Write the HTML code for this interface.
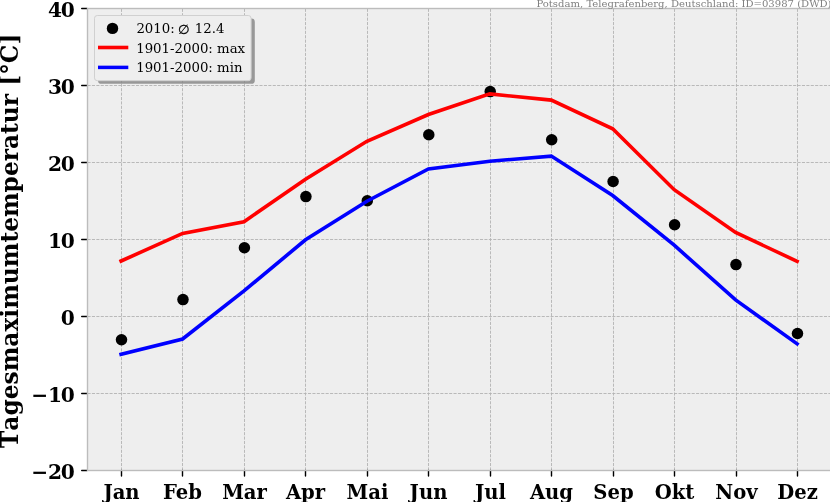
<!DOCTYPE html>
<html lang="de"><head><meta charset="utf-8"><title>Potsdam Tagesmaximumtemperatur 2010</title>
<style>html,body{margin:0;padding:0;background:#fff;overflow:hidden}svg{display:block}text{font-family:"DejaVu Serif","DejaVu Sans","Liberation Serif",serif}.tk{font-weight:bold;font-size:19.6px;fill:#000}.ty{font-weight:bold;font-size:20.2px;letter-spacing:-1.3px;fill:#000}.lg{font-size:13.3px;fill:#000}</style></head><body>
<svg width="830" height="502" viewBox="0 0 830 502">
<rect x="0" y="0" width="830" height="502" fill="#ffffff"/>
<rect x="87.5" y="8.5" width="745.0" height="462.0" fill="#eeeeee"/>
<g stroke="#b2b2b2" stroke-width="0.9" stroke-dasharray="3.08 1.33" fill="none">
<path d="M121.5 470.5V8.5"/>
<path d="M182.5 470.5V8.5"/>
<path d="M244.5 470.5V8.5"/>
<path d="M305.5 470.5V8.5"/>
<path d="M367.5 470.5V8.5"/>
<path d="M428.5 470.5V8.5"/>
<path d="M490.5 470.5V8.5"/>
<path d="M551.5 470.5V8.5"/>
<path d="M613.5 470.5V8.5"/>
<path d="M674.5 470.5V8.5"/>
<path d="M736.5 470.5V8.5"/>
<path d="M797.5 470.5V8.5"/>
<path d="M87.5 393.5H832.5"/>
<path d="M87.5 316.5H832.5"/>
<path d="M87.5 239.5H832.5"/>
<path d="M87.5 162.5H832.5"/>
<path d="M87.5 85.5H832.5"/>
</g>
<g fill="#000">
<circle cx="121.5" cy="339.7" r="5.75"/>
<circle cx="183.0" cy="299.6" r="5.75"/>
<circle cx="244.4" cy="247.7" r="5.75"/>
<circle cx="305.9" cy="196.6" r="5.75"/>
<circle cx="367.3" cy="200.7" r="5.75"/>
<circle cx="428.8" cy="134.8" r="5.75"/>
<circle cx="490.2" cy="91.6" r="5.75"/>
<circle cx="551.7" cy="139.7" r="5.75"/>
<circle cx="613.1" cy="181.5" r="5.75"/>
<circle cx="674.6" cy="224.7" r="5.75"/>
<circle cx="736.0" cy="264.6" r="5.75"/>
<circle cx="797.5" cy="333.5" r="5.75"/>
</g>
<polyline points="121.1,261.0 182.6,233.4 244.0,221.7 305.5,179.2 366.9,141.3 428.4,114.5 489.8,93.9 551.3,100.1 612.7,128.8 674.2,189.7 735.6,232.5 797.1,261.3" fill="none" stroke="#ff0000" stroke-width="3.6" stroke-linejoin="miter" stroke-linecap="square"/>
<polyline points="121.1,354.2 182.6,339.0 244.0,290.9 305.5,239.8 366.9,201.2 428.4,169.0 489.8,161.2 551.3,156.1 612.7,195.5 674.2,245.2 735.6,299.9 797.1,343.8" fill="none" stroke="#0000ff" stroke-width="3.6" stroke-linejoin="miter" stroke-linecap="square"/>
<g stroke="#000" stroke-width="1.4" stroke-linecap="round" fill="none">
<path d="M121.5 470.5v5.6"/>
<path d="M182.5 470.5v5.6"/>
<path d="M244.5 470.5v5.6"/>
<path d="M305.5 470.5v5.6"/>
<path d="M367.5 470.5v5.6"/>
<path d="M428.5 470.5v5.6"/>
<path d="M490.5 470.5v5.6"/>
<path d="M551.5 470.5v5.6"/>
<path d="M613.5 470.5v5.6"/>
<path d="M674.5 470.5v5.6"/>
<path d="M736.5 470.5v5.6"/>
<path d="M797.5 470.5v5.6"/>
<path d="M87.0 470.5h-5.3"/>
<path d="M87.0 393.5h-5.3"/>
<path d="M87.0 316.5h-5.3"/>
<path d="M87.0 239.5h-5.3"/>
<path d="M87.0 162.5h-5.3"/>
<path d="M87.0 85.5h-5.3"/>
<path d="M87.0 8.5h-5.3"/>
</g>
<rect x="87.5" y="8.5" width="745.0" height="462.0" fill="none" stroke="#bcbcbc" stroke-width="1.39"/>
<text class="tk" x="121.5" y="498.6" text-anchor="middle">Jan</text>
<text class="tk" x="182.5" y="498.6" text-anchor="middle">Feb</text>
<text class="tk" x="244.5" y="498.6" text-anchor="middle">Mar</text>
<text class="tk" x="305.5" y="498.6" text-anchor="middle">Apr</text>
<text class="tk" x="367.5" y="498.6" text-anchor="middle">Mai</text>
<text class="tk" x="428.5" y="498.6" text-anchor="middle">Jun</text>
<text class="tk" x="490.5" y="498.6" text-anchor="middle">Jul</text>
<text class="tk" x="551.5" y="498.6" text-anchor="middle">Aug</text>
<text class="tk" x="613.5" y="498.6" text-anchor="middle">Sep</text>
<text class="tk" x="674.5" y="498.6" text-anchor="middle">Okt</text>
<text class="tk" x="736.5" y="498.6" text-anchor="middle">Nov</text>
<text class="tk" x="797.5" y="498.6" text-anchor="middle">Dez</text>
<text class="ty" x="73.6" y="478.6" text-anchor="end"><tspan letter-spacing="0">−</tspan>20</text>
<text class="ty" x="73.6" y="401.6" text-anchor="end"><tspan letter-spacing="0">−</tspan>10</text>
<text class="ty" x="73.6" y="324.6" text-anchor="end">0</text>
<text class="ty" x="73.6" y="247.6" text-anchor="end">10</text>
<text class="ty" x="73.6" y="170.6" text-anchor="end">20</text>
<text class="ty" x="73.6" y="93.6" text-anchor="end">30</text>
<text class="ty" x="73.6" y="16.6" text-anchor="end">40</text>
<text transform="translate(18.2,448.0) rotate(-90)" font-weight="bold" font-size="23.3px" style="font-kerning:none">Tagesmaximumtemperatur [°C]</text>
<text x="831.5" y="7.4" text-anchor="end" font-size="10.07px" fill="#808080">Potsdam, Telegrafenberg, Deutschland: ID=03987 (DWD)</text>
<rect x="98.0" y="18.5" width="156.8" height="65.3" rx="3.4" fill="#6a6a6a" fill-opacity="0.65"/>
<rect x="94.5" y="15.5" width="156.6" height="65.2" rx="2.8" fill="#eeeeee" stroke="#d0d0d0" stroke-width="1"/>
<circle cx="112.5" cy="28.4" r="5.7" fill="#000"/>
<path d="M98 47.5H128.3" stroke="#ff0000" stroke-width="3.6"/>
<path d="M98 67.4H128.3" stroke="#0000ff" stroke-width="3.5"/>
<text class="lg" x="136.4" y="32.9">2010: <tspan dx="-0.9" dy="0.8" stroke="#000" stroke-width="0.25">∅</tspan><tspan dx="0.9" dy="-0.8"> 12.4</tspan></text>
<text class="lg" x="136.2" y="52.9">1901-2000: max</text>
<text class="lg" x="136.2" y="72.3">1901-2000: min</text>
</svg></body></html>
